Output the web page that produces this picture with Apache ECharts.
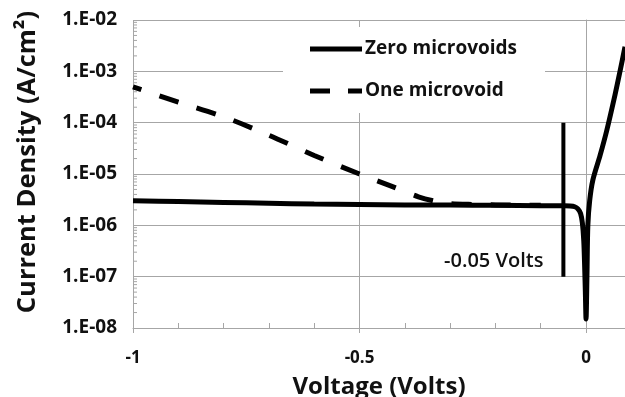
<!DOCTYPE html>
<html>
<head>
<meta charset="utf-8">
<script src="https://cdn.jsdelivr.net/npm/echarts@6/dist/echarts.min.js"></script>
<style>
  html, body { margin: 0; padding: 0; background: #fff; }
  #chart { width: 625px; height: 397px; }
</style>
</head>
<body>
<div id="chart"></div>
<script>
// zero microvoids (solid)
const zeroX = [-1, -0.9, -0.8, -0.7, -0.6, -0.5, -0.4, -0.3, -0.2, -0.1, -0.05, -0.035, -0.025, -0.018, -0.012, -0.008, -0.005, -0.003, -0.0015, 0, 0.002, 0.004, 0.008, 0.015, 0.031, 0.046, 0.064, 0.075, 0.086]
const zeroY = [3.0e-6, 2.9e-6, 2.8e-6, 2.7e-6, 2.6e-6, 2.55e-6, 2.5e-6, 2.48e-6, 2.45e-6, 2.42e-6, 2.4e-6, 2.38e-6, 2.3e-6, 2.1e-6, 1.7e-6, 1.1e-6, 5e-7, 1.5e-7, 5e-8, 1.5e-8, 1e-7, 1e-6, 3e-6, 7.6e-6, 2.3e-5, 7.2e-5, 3.5e-4, 1e-3, 3e-3]

// one microvoid (dashed)
const oneX = [-1, -0.9, -0.8, -0.7, -0.6, -0.5, -0.43, -0.37, -0.33, -0.3, -0.25, -0.2, -0.15, -0.1]
const oneY = [5e-4, 2.5e-4, 1.3e-4, 5.7e-5, 2.3e-5, 1e-5, 5.8e-6, 3.6e-6, 2.9e-6, 2.65e-6, 2.55e-6, 2.5e-6, 2.47e-6, 2.45e-6]

// -0.05 V marker
const markerX = [-0.05, -0.05]
const markerY = [1e-7, 1e-4]
const markerLabel = '-0.05 Volts'

const seriesNames = ['Zero microvoids', 'One microvoid']
const yTickLabels = ['1.E-08', '1.E-07', '1.E-06', '1.E-05', '1.E-04', '1.E-03', '1.E-02']
const yDecades = [1e-8, 1e-7, 1e-6, 1e-5, 1e-4, 1e-3, 1e-2]
const xTicks = [-1, -0.5, 0]

const FONT = 'Open Sans'
const GRID_COLOR = '#a6a6a6'

// log minor ticks on the y axis (2..9 in each decade)
const minorY = []
for (let i = 0; i < yDecades.length - 1; i++) {
  for (let k = 2; k <= 9; k++) minorY.push([-1, yDecades[i] * k])
}

const pairs = (xs, ys) => xs.map((x, i) => [x, ys[i]])

const myChart = echarts.init(document.getElementById('chart'))

myChart.setOption({
  animation: false,
  grid: { left: 133, right: 0, top: 20, bottom: 69, outerBoundsMode: 'none', containLabel: false },
  legend: {
    data: [
      { name: seriesNames[0], icon: 'path://M0,0H52V5H0Z' },
      { name: seriesNames[1], icon: 'path://M0,0H20V5H0Z M38,0H52V5H38Z' }
    ],
    orient: 'vertical',
    left: 283,
    top: 27,
    padding: [11, 28, 11, 27],
    itemGap: 20,
    itemWidth: 52,
    itemHeight: 5,
    backgroundColor: '#fff',
    selectedMode: false,
    itemStyle: { color: '#000' },
    textStyle: { fontFamily: FONT, fontSize: 19, fontWeight: 'bold', color: '#111', lineHeight: 22, padding: [0, 0, 0, -2] }
  },
  xAxis: [
    {
      type: 'value',
      min: -1,
      max: 0.086,
      interval: 0.5,
      axisLine: { onZero: false, lineStyle: { color: GRID_COLOR } },
      axisTick: { length: 5, lineStyle: { color: GRID_COLOR } },
      splitLine: { showMaxLine: false, lineStyle: { color: GRID_COLOR } },
      axisLabel: {
        showMaxLabel: false,
        margin: 22,
        fontFamily: FONT, fontSize: 17, fontWeight: 'bold', color: '#111',
        formatter: v => (xTicks.indexOf(v) >= 0 ? String(v) : '')
      },
      name: 'Voltage (Volts)',
      nameLocation: 'middle',
      nameGap: 47,
      nameTextStyle: { fontFamily: FONT, fontSize: 24, fontWeight: 'bold', color: '#111' }
    },
    {
      // minor ticks pointing up
      type: 'value',
      position: 'bottom',
      min: -1,
      max: 0.086,
      interval: 0.1,
      axisLine: { show: false },
      axisTick: { inside: true, length: 5, lineStyle: { color: GRID_COLOR } },
      axisLabel: { show: false },
      splitLine: { show: false }
    }
  ],
  yAxis: {
    type: 'log',
    logBase: 10,
    min: 1e-8,
    max: 1e-2,
    splitNumber: 6,
    axisLine: { show: true, lineStyle: { color: GRID_COLOR } },
    axisTick: { show: true, length: 6, lineStyle: { color: GRID_COLOR } },
    splitLine: { lineStyle: { color: GRID_COLOR } },
    axisLabel: {
      margin: 16,
      fontFamily: FONT, fontSize: 19, fontWeight: 'bold', color: '#111',
      formatter: v => {
        const i = Math.round(Math.log10(v)) + 8
        return yTickLabels[i] || ''
      }
    },
    name: 'Current Density (A/cm²)',
    nameLocation: 'middle',
    nameGap: 92,
    nameTextStyle: { fontFamily: FONT, fontSize: 25.5, fontWeight: 'bold', color: '#111', padding: [0, 0, 0, 24] }
  },
  series: [
    {
      type: 'custom',
      silent: true,
      clip: false,
      z: 1,
      data: minorY,
      renderItem: (params, api) => {
        const p = api.coord([api.value(0), api.value(1)])
        return {
          type: 'line',
          shape: { x1: p[0], y1: p[1], x2: p[0] + 4, y2: p[1] },
          style: { stroke: GRID_COLOR, lineWidth: 1 }
        }
      }
    },
    {
      name: seriesNames[0],
      type: 'line',
      data: pairs(zeroX, zeroY),
      symbol: 'none',
      smooth: 0.3,
      lineStyle: { color: '#000', width: 5 },
      itemStyle: { color: '#000' },
      z: 3
    },
    {
      name: seriesNames[1],
      type: 'line',
      data: pairs(oneX, oneY),
      symbol: 'none',
      smooth: 0.3,
      lineStyle: { color: '#000', width: 5, type: [20, 19], dashOffset: 11 },
      itemStyle: { color: '#000' },
      z: 4
    },
    {
      name: 'marker',
      type: 'line',
      data: pairs(markerX, markerY),
      symbol: 'none',
      lineStyle: { color: '#000', width: 4 },
      markPoint: {
        symbol: 'circle',
        symbolSize: 0,
        itemStyle: { color: 'transparent' },
        data: [{ coord: [markerX[0], markerY[0]], value: markerLabel }],
        label: {
          show: true,
          position: 'left',
          distance: 20,
          offset: [0, -15],
          formatter: markerLabel,
          fontFamily: FONT, fontSize: 20, fontWeight: 600, color: '#111'
        }
      },
      z: 3
    }
  ]
})

window.addEventListener('resize', () => {
  myChart.resize()
})
</script>
</body>
</html>
